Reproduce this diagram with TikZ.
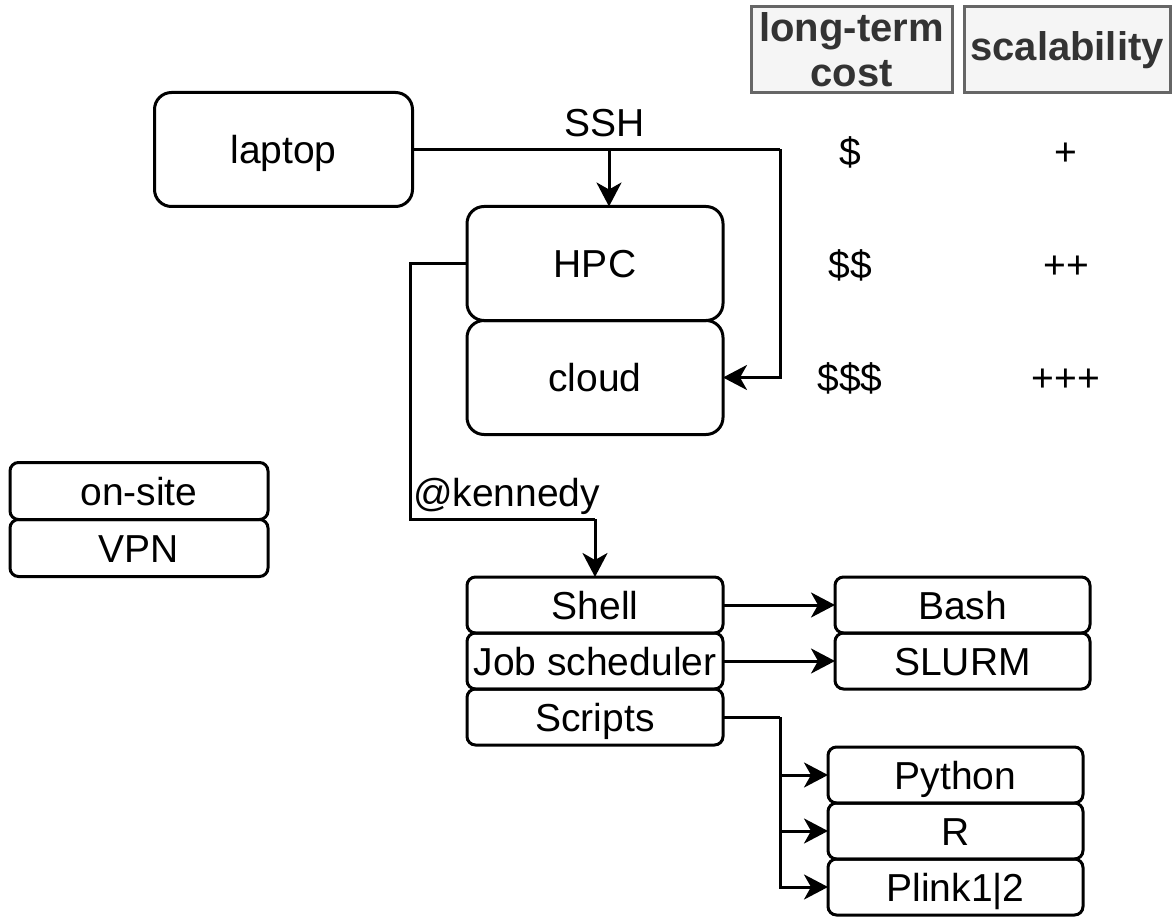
\documentclass[tikz,border=0pt]{standalone}
\usepackage{fontspec}
\setmainfont{Liberation Sans}
\definecolor{HdrText}{HTML}{333333}
\definecolor{HdrLine}{HTML}{666666}
\definecolor{HdrFill}{HTML}{F5F5F5}
\usetikzlibrary{arrows.meta,positioning}

\begin{document}
\begin{tikzpicture}[x=1pt,y=-1pt,
  every node/.style={font=\fontsize{39}{44}\selectfont,outer sep=0pt,inner sep=0pt},
  txt/.style={text height=36pt,text depth=8pt},
  box/.style={txt,draw,line width=3pt,rounded corners=8.5pt,
              minimum width=256pt,minimum height=56pt},
  bigbox/.style={box,rounded corners=17pt,minimum height=114pt},
  hdr/.style={draw=HdrLine,fill=HdrFill,text=HdrText,line width=3pt,
              minimum height=86pt,align=center,
              font=\fontsize{40}{45}\selectfont\bfseries},
  conn/.style={line width=3pt,-{Stealth[length=24pt,width=25pt,inset=7pt]}},
  wire/.style={line width=3pt}]
  \useasboundingbox (0,0) rectangle (1172,917);
  %% Column headers
  \node[hdr,minimum width=201pt] (costhdr) at (851.5,50) {long-term\\cost};
  \node[hdr,minimum width=206pt] (scalehdr) at (1067,50) {scalability};
  %% Access boxes
  \node[bigbox,minimum width=258pt] (laptop) at (283.5,149.5) {laptop};
  \node[bigbox] (hpc) at (595,263.5) {HPC};
  \node[bigbox,below=0pt of hpc] (cloud) {cloud};
  \node[box,minimum width=258pt,minimum height=57pt] (onsite) at (139,491) {on-site};
  \node[box,minimum width=258pt,minimum height=57pt,below=0pt of onsite] (vpn) {VPN};
  %% Cost and scalability values
  \node[txt] (cost1) at (850,152) {\$};
  \node[txt] (cost2) at (850,265) {\$\$};
  \node[txt] (cost3) at (850,377) {\$\$\$};
  \node[txt] (scale1) at (1066,152) {+};
  \node[txt] (scale2) at (1066,265) {++};
  \node[txt] (scale3) at (1066,377) {+++};
  %% Tools on the HPC
  \node[box] (shell) at (595,605) {Shell};
  \node[box,below=0pt of shell] (jobs) {Job scheduler};
  \node[box,below=0pt of jobs] (scripts) {Scripts};
  \node[box,minimum width=255pt] (bash) at (962.5,605) {Bash};
  \node[box,minimum width=255pt,below=0pt of bash] (slurm) {SLURM};
  \node[box,minimum width=255pt] (python) at (955.5,775) {Python};
  \node[box,minimum width=255pt,below=0pt of python] (rlang) {R};
  \node[box,minimum width=255pt,below=0pt of rlang] (plink) {Plink1|2};
  %% SSH connectors
  \coordinate (sshsplit) at (609,149.5);
  \coordinate (sshturn) at (780,149.5);
  \node[txt] (ssh) at (605,123) {SSH};
  \draw[wire] (laptop.east) -- (sshturn);
  \draw[conn] (sshturn) |- (cloud.east);
  \draw[conn] (sshsplit) -- (sshsplit |- hpc.north);
  %% HPC login
  \coordinate (hpcturn) at (410,263.5);
  \coordinate (kennedy) at (595,519);
  \node[txt,anchor=west] (kenlabel) at (413,492) {@kennedy};
  \draw[wire] (hpc.west) -- (hpcturn) |- (kennedy);
  \draw[conn] (kennedy) -- (shell.north);
  %% Tool connectors
  \draw[conn] (shell.east) -- (bash.west);
  \draw[conn] (jobs.east) -- (slurm.west);
  \coordinate (scriptsplit) at (780,717);
  \draw[wire] (scripts.east) -- (scripts.east -| scriptsplit);
  \draw[conn] (scripts.east -| scriptsplit) |- (python.west);
  \draw[conn] (scripts.east -| scriptsplit) |- (rlang.west);
  \draw[conn] (scripts.east -| scriptsplit) |- (plink.west);
\end{tikzpicture}
\end{document}
